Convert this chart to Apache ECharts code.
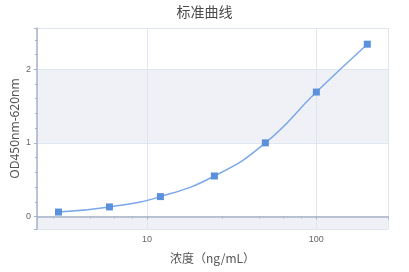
<!DOCTYPE html>
<html>
<head>
<meta charset="utf-8">
<script src="https://cdn.jsdelivr.net/npm/echarts@6/dist/echarts.min.js"></script>
<style>html,body{margin:0;padding:0;background:#fff}#c{width:409px;height:272px}</style>
</head>
<body>
<div id="c"></div>
<script>
var titleText = '标准曲线';
var xName = '浓度（ng/mL）';
var yName = 'OD450nm-620nm';
var concentrations = [3, 6, 12, 25, 50, 100, 200];
var odValues = [0.06, 0.13, 0.27, 0.55, 1.00, 1.69, 2.34];

var chart = echarts.init(document.getElementById('c'));
var axisColor = '#a9b3c8';
chart.setOption({
  animation: false,
  title: {
    text: titleText, left: 'center', top: 0,
    textStyle: {fontSize: 14, fontWeight: 'normal', color: '#4a4a4a', fontFamily: 'Noto Sans CJK SC'}
  },
  grid: {left: 37, right: 21, top: 28, bottom: 43, containLabel: false, outerBoundsMode: 'none'},
  xAxis: {
    type: 'log', logBase: 10, min: 2.24, max: 265,
    name: xName, nameLocation: 'middle', nameGap: 23, nameMoveOverlap: false,
    nameTextStyle: {fontSize: 12, color: '#555', fontFamily: 'Noto Sans CJK SC'},
    axisLine: {show: true, lineStyle: {color: axisColor, width: 1.5}},
    axisTick: {show: true, length: 3, lineStyle: {color: axisColor}},
    minorTick: {show: true, splitNumber: 5, length: 2, lineStyle: {color: axisColor}},
    axisLabel: {fontSize: 9, color: '#666', showMinLabel: false, showMaxLabel: false, margin: 6},
    splitLine: {show: true, lineStyle: {color: '#e0e6f1'}}
  },
  yAxis: {
    type: 'value', min: -0.17, max: 2.56, splitNumber: 3,
    name: yName, nameLocation: 'middle', nameGap: 15, nameMoveOverlap: false,
    nameTextStyle: {fontSize: 12, color: '#555', fontFamily: 'Noto Sans'},
    axisLine: {show: true, lineStyle: {color: axisColor, width: 1.5}},
    axisTick: {show: true, length: 3, lineStyle: {color: axisColor}},
    minorTick: {show: true, splitNumber: 5, length: 2, lineStyle: {color: axisColor}},
    axisLabel: {fontSize: 9, color: '#666', showMinLabel: false, showMaxLabel: false, margin: 6},
    splitLine: {show: true, lineStyle: {color: '#e0e6f1'}},
    splitArea: {show: true, areaStyle: {color: ['#eff1f6', '#ffffff']}}
  },
  series: [{
    type: 'line', smooth: true,
    data: concentrations.map(function (c, i) { return [c, odValues[i]]; }),
    symbol: 'rect', symbolSize: 7,
    lineStyle: {color: '#7aa8ea', width: 1.5},
    itemStyle: {color: '#5b90dc'}
  }]
});
</script>
</body>
</html>
